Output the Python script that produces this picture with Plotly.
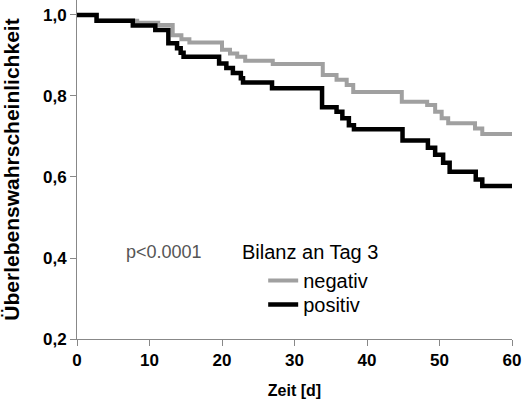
import plotly.graph_objects as go

# Kaplan-Meier step data (day of event, survival after event)
neg_days = [0, 2.7, 8.3, 11.2, 13.2, 14.4, 15.5, 20.0, 21.1, 22.1, 23.2, 27.0, 33.9, 35.8, 37.2, 38.1,
            44.8, 48.3, 49.4, 50.3, 51.2, 54.9, 55.9, 60]
neg_surv = [1.0, 0.986, 0.981, 0.975, 0.95, 0.94, 0.932, 0.914, 0.905, 0.897, 0.887, 0.879, 0.852, 0.84,
            0.827, 0.81, 0.786, 0.778, 0.761, 0.745, 0.733, 0.72, 0.706, 0.706]

pos_days = [0, 2.7, 7.7, 10.8, 12.6, 13.8, 14.3, 14.7, 19.6, 20.6, 21.5, 22.6, 22.9, 26.9, 33.8, 35.8,
            36.6, 37.5, 38.2, 44.9, 48.4, 49.4, 50.5, 51.4, 55.0, 55.9, 60]
pos_surv = [1.0, 0.986, 0.974, 0.963, 0.93, 0.918, 0.907, 0.897, 0.88, 0.869, 0.857, 0.844, 0.833, 0.819,
            0.772, 0.761, 0.745, 0.728, 0.718, 0.69, 0.672, 0.655, 0.635, 0.613, 0.594, 0.578, 0.578]

x_ticks = [0, 10, 20, 30, 40, 50, 60]
x_labels = ["<b>%d</b>" % v for v in x_ticks]
y_ticks = [0.2, 0.4, 0.6, 0.8, 1.0]
y_labels = ["<b>%s</b>" % ("%.1f" % v).replace(".", ",") for v in y_ticks]

FONT = "Liberation Sans, Arial, sans-serif"

fig = go.Figure()
fig.add_trace(go.Scatter(x=neg_days, y=neg_surv, mode="lines", line_shape="hv",
                         line=dict(color="#a0a0a0", width=4), name="negativ", legend="legend"))
fig.add_trace(go.Scatter(x=pos_days, y=pos_surv, mode="lines", line_shape="hv",
                         line=dict(color="#000000", width=4.5), name="positiv", legend="legend2"))

leg_common = dict(xanchor="left", yanchor="top", bgcolor="rgba(0,0,0,0)",
                  font=dict(size=20, color="black"), itemwidth=30)

fig.update_layout(
    width=524, height=399,
    margin=dict(l=77, r=12, t=0, b=60, autoexpand=False),
    plot_bgcolor="white", paper_bgcolor="white",
    separators=",.",
    font=dict(family=FONT, color="black"),
    showlegend=True,
    legend=dict(x=0.428, y=0.230, **leg_common),
    legend2=dict(x=0.428, y=0.159, **leg_common),
    xaxis=dict(range=[0, 60], tickvals=x_ticks, ticktext=x_labels, showline=True,
               linecolor="#888888", linewidth=1,
               ticks="outside", ticklen=6, tickcolor="#888888", showgrid=False, zeroline=False,
               tickfont=dict(size=17, color="black"),
               title=dict(text="<b>Zeit [d]</b>", font=dict(size=16), standoff=18)),
    yaxis=dict(range=[0.2, 1.037], tickvals=y_ticks, ticktext=y_labels, showline=True,
               linecolor="#888888", linewidth=1, ticks="outside", ticklen=6, tickcolor="#888888",
               showgrid=False, zeroline=False, tickfont=dict(size=17, color="black"),
               title=dict(text="<b>Überlebenswahrscheinlichkeit</b>", font=dict(size=21), standoff=17)),
    annotations=[
        dict(text="p<0.0001", x=0.108, y=0.2566, xref="paper", yref="paper", xanchor="left",
             yanchor="middle", showarrow=False, font=dict(size=18, color="#555555")),
        dict(text="Bilanz an Tag 3", x=0.3747, y=0.2566, xref="paper", yref="paper", xanchor="left",
             yanchor="middle", showarrow=False, font=dict(size=20, color="black")),
    ],
)

fig.write_html("out.html")
